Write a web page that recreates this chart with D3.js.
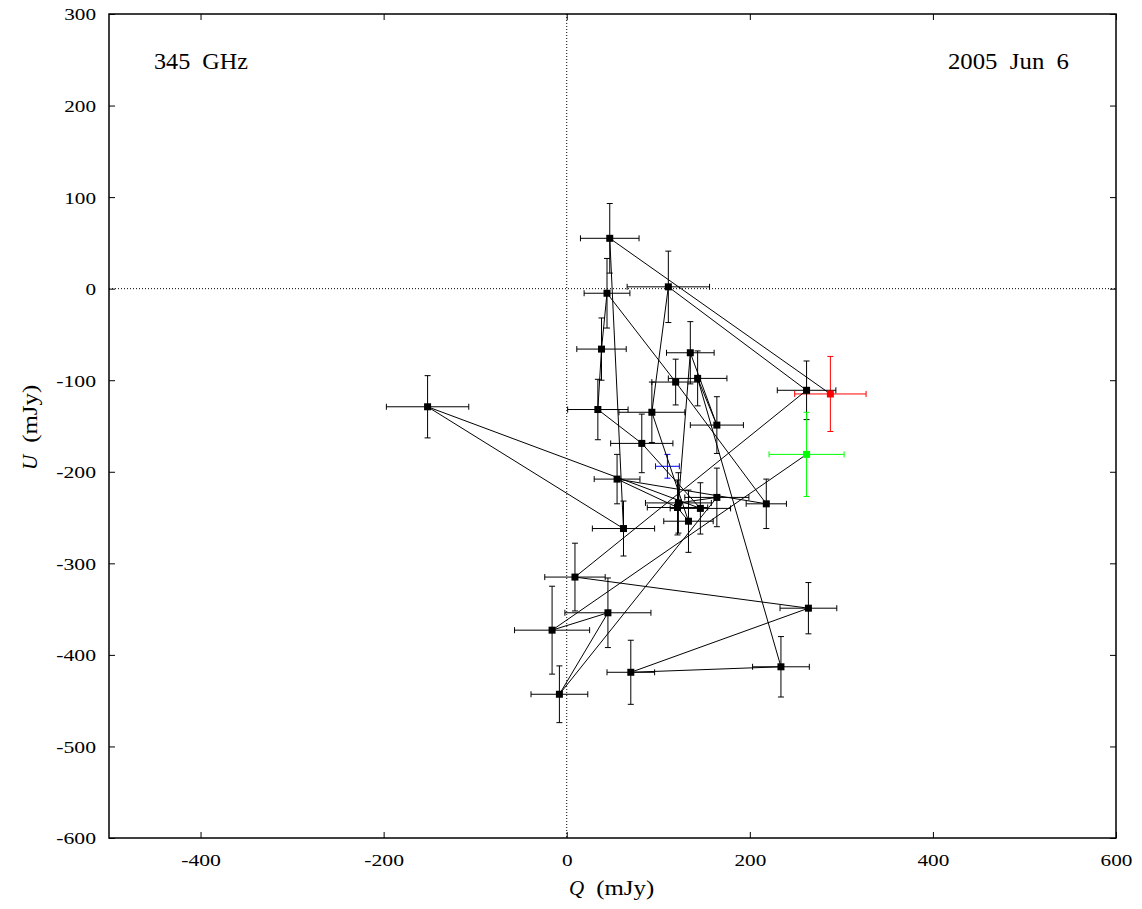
<!DOCTYPE html>
<html>
<head>
<meta charset="utf-8">
<script src="https://cdn.jsdelivr.net/npm/d3@7"></script>
<style>
  html, body { margin: 0; padding: 0; background: #fff; }
  svg text { font-family: "Liberation Serif", "DejaVu Serif", serif; fill: #000; white-space: pre; }
</style>
</head>
<body>
<svg id="chart" width="1142" height="909"></svg>
<script>
// ---- data (time-ordered sequence; first point red, last point green) ----
const qValues = [288, 47, 62, -152, 146, 82, 34, 38, 44, 119, 218, 55, 121, 133, 93, 111, 262, 9, 264, 70, 234, 143, 164, 135, 122, 164, -8, 45, -16, 262];
const uValues = [-115, 55, -262, -129, -240, -169, -132, -66, -5, -102, -235, -208, -239, -254, -135, 2, -111, -315, -349, -419, -413, -98, -149, -70, -234, -228, -443, -354, -373, -181];
const qErrors = [39, 32, 34, 45, 33, 34, 33, 27, 25, 26, 22, 25, 33, 27, 36, 45, 32, 33, 31, 26, 31, 32, 29, 26, 36, 35, 31, 47, 41, 41];
const uErrors = [41, 38, 30, 34, 28, 32, 33, 34, 38, 25, 27, 27, 30, 34, 33, 39, 32, 37, 28, 35, 33, 30, 31, 34, 33, 32, 31, 38, 48, 46];
// mean point (blue)
const meanQ = [110];
const meanU = [-194];
const meanQErr = [13];
const meanUErr = [13];
// axes
const xTicks = [-400, -200, 0, 200, 400, 600];
const yTicks = [-600, -500, -400, -300, -200, -100, 0, 100, 200, 300];
const xDomain = [-500, 600];
const yDomain = [-600, 300];

// ---- drawing ----
const svg = d3.select("#chart");
const L = 109, R = 1116, T = 14, B = 838;
const x = d3.scaleLinear().domain(xDomain).range([L, R]);
const y = d3.scaleLinear().domain(yDomain).range([B, T]);

const n = qValues.length;
const pts = qValues.map((q, i) => ({
  q, u: uValues[i], eq: qErrors[i], eu: uErrors[i],
  color: i === 0 ? "#ff0000" : (i === n - 1 ? "#00ff00" : "#000000")
}));
const meanPts = meanQ.map((q, i) => ({ q, u: meanU[i], eq: meanQErr[i], eu: meanUErr[i], color: "#0000ff" }));

// zero lines (dotted)
svg.append("line").attr("x1", x(0)).attr("x2", x(0)).attr("y1", T).attr("y2", B)
  .attr("stroke", "#000").attr("stroke-width", 1).attr("stroke-dasharray", "1,2");
svg.append("line").attr("x1", L).attr("x2", R).attr("y1", y(0)).attr("y2", y(0))
  .attr("stroke", "#000").attr("stroke-width", 1).attr("stroke-dasharray", "1,2");

// axes with inward ticks
const tickLen = 6;
const fmt = d => String(d); // plain hyphen-minus like the original
const labelWidth = s => s.replace("-", "").length * 10.6 + (s.startsWith("-") ? 8 : 0);
const gB = svg.append("g").attr("transform", `translate(0,${B})`)
  .call(d3.axisBottom(x).tickValues(xTicks).tickSize(-tickLen).tickPadding(16).tickFormat(fmt));
const gT = svg.append("g").attr("transform", `translate(0,${T})`)
  .call(d3.axisTop(x).tickValues(xTicks).tickSize(-tickLen).tickFormat(""));
const gL = svg.append("g").attr("transform", `translate(${L},0)`)
  .call(d3.axisLeft(y).tickValues(yTicks).tickSize(-tickLen).tickPadding(13).tickFormat(fmt));
const gR = svg.append("g").attr("transform", `translate(${R},0)`)
  .call(d3.axisRight(y).tickValues(yTicks).tickSize(-tickLen).tickFormat(""));
[gB, gT, gL, gR].forEach(g => {
  g.select(".domain").remove();
  g.selectAll(".tick line").attr("stroke", "#000").attr("stroke-width", 1);
  g.selectAll("text").style("font-family", '"Liberation Serif", "DejaVu Serif", serif')
    .style("font-size", "17px").attr("fill", "#000");
});
[gB, gL].forEach(g => g.selectAll(".tick text").each(function (d) {
  d3.select(this).attr("textLength", labelWidth(fmt(d))).attr("lengthAdjust", "spacingAndGlyphs");
}));
gB.selectAll(".tick text").attr("dy", "0.71em");
gL.selectAll(".tick text").attr("dy", "0.35em");

// frame
svg.append("rect").attr("x", L).attr("y", T).attr("width", R - L).attr("height", B - T)
  .attr("fill", "none").attr("stroke", "#000").attr("stroke-width", 1.5);

// error bars
const cap = 3;
function drawErr(data) {
  const g = svg.append("g");
  data.forEach(d => {
    const cx = x(d.q), cy = y(d.u);
    const x0 = x(d.q - d.eq), x1 = x(d.q + d.eq);
    const y0 = y(d.u - d.eu), y1 = y(d.u + d.eu);
    const add = (a, b, c, e) => g.append("line").attr("x1", a).attr("y1", b).attr("x2", c).attr("y2", e)
      .attr("stroke", d.color).attr("stroke-width", 1);
    add(x0, cy, x1, cy);
    add(x0, cy - cap, x0, cy + cap);
    add(x1, cy - cap, x1, cy + cap);
    add(cx, y0, cx, y1);
    add(cx - cap, y0, cx + cap, y0);
    add(cx - cap, y1, cx + cap, y1);
  });
}
drawErr(pts);
drawErr(meanPts);

// connecting line
const line = d3.line().x(d => x(d.q)).y(d => y(d.u));
svg.append("path").datum(pts).attr("d", line)
  .attr("fill", "none").attr("stroke", "#000").attr("stroke-width", 1);

// markers
const ms = 7;
svg.append("g").selectAll("rect").data(pts).join("rect")
  .attr("x", d => x(d.q) - ms / 2).attr("y", d => y(d.u) - ms / 2)
  .attr("width", ms).attr("height", ms).attr("fill", d => d.color);

// labels inside plot
svg.append("text").attr("x", 154).attr("y", 69).attr("font-size", 23)
  .attr("textLength", 94).attr("lengthAdjust", "spacingAndGlyphs").text("345  GHz");
svg.append("text").attr("x", 1069).attr("y", 69).attr("font-size", 23).attr("text-anchor", "end")
  .attr("textLength", 121).attr("lengthAdjust", "spacingAndGlyphs").text("2005  Jun  6");

// axis titles
const xt = svg.append("text").attr("x", 569).attr("y", 895).attr("font-size", 21);
xt.append("tspan").attr("font-style", "italic").text("Q");
xt.append("tspan").attr("dx", 12).text("(mJy)").attr("textLength", 58).attr("lengthAdjust", "spacingAndGlyphs");
const yt = svg.append("text").attr("transform", "translate(37,470) rotate(-90)").attr("font-size", 21);
yt.append("tspan").attr("font-style", "italic").text("U");
yt.append("tspan").attr("dx", 12).text("(mJy)").attr("textLength", 58).attr("lengthAdjust", "spacingAndGlyphs");
</script>
</body>
</html>
